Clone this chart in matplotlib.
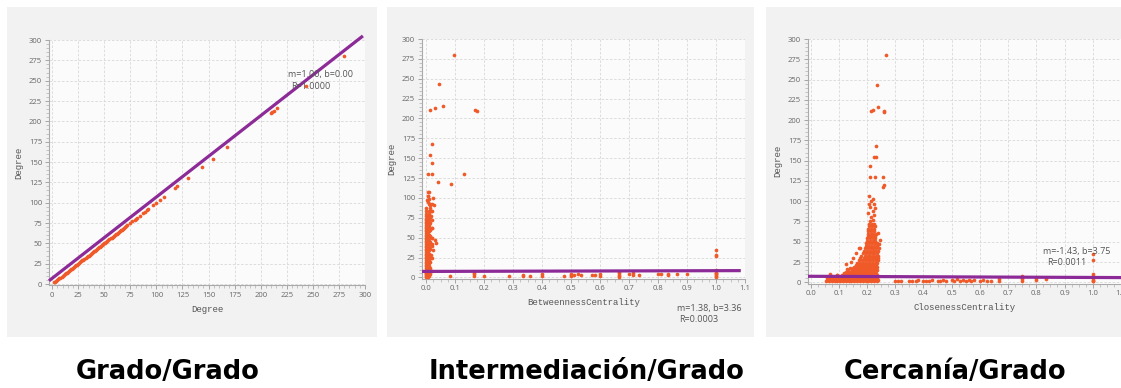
import matplotlib
matplotlib.use('Agg')
import matplotlib.pyplot as plt
from matplotlib.patches import Rectangle
from matplotlib.ticker import MultipleLocator, FormatStrFormatter

# ---------------- DATA ----------------
# Panel 1: Degree vs Degree
degree_p1 = [2, 3, 4, 5, 6, 7, 8, 9, 10, 11, 12, 13, 14, 15, 16, 17, 18, 19, 20,
             21, 22, 23, 24, 25, 26, 27, 28, 29, 30, 31, 32, 33, 34, 35, 36, 37, 38,
             39, 40, 41, 42, 43, 44, 45, 46, 47, 48, 49, 50, 51, 52, 53, 54, 55, 56,
             57, 58, 59, 60, 61, 62, 63, 64, 65, 66, 67, 68, 69, 70, 71, 72,
             75, 77, 79, 80, 81, 84, 87, 89, 91, 92, 97, 100, 103, 107, 118, 120,
             130, 144, 154, 168, 210, 211, 213, 216, 243, 280]
fit1_x = [-3, 298]
fit1_y = [4, 305]
label1 = ["m=1.00, b=0.00", "R=1.0000"]

# Panel 2: BetweennessCentrality vs Degree
bc_col_a = [1, 2, 3, 4, 5, 6, 8, 10, 12, 14, 16, 18, 20, 22, 24, 26, 28, 30, 32, 34,
            36, 38, 40, 42, 44, 46, 48, 50, 52, 54, 56, 58, 60, 62, 64, 66, 68, 70,
            72, 74, 77, 80, 84, 88]
bc_col_b = [1, 3, 5, 7, 9, 11, 13, 15, 17, 19, 21, 23, 25, 27, 29, 31, 33, 35, 37,
            39, 41, 43, 45, 47, 49, 51, 53, 55, 57, 59, 61, 63, 65, 67, 69, 71, 76,
            79, 95, 103]
bc_col_c = [2, 6, 10, 14, 18, 22, 26, 30, 34, 38, 42, 46, 50, 54, 58, 62, 66, 70,
            74, 80, 92, 99, 107]
bc_col_d = [4, 12, 20, 28, 36, 44, 52, 60, 68, 76, 84, 91]
bc_col_e = [8, 24, 40, 50, 62, 84]
bc_col_x = [0.001, 0.005, 0.009, 0.014, 0.019]
bc_other_x = [0.097, 0.045, 0.060, 0.030, 0.013, 0.170, 0.175, 0.020, 0.013, 0.022,
              0.005, 0.020, 0.130, 0.042, 0.085, 0.024, 0.008, 0.006, 0.004, 0.012,
              0.020, 0.028, 0.015, 0.018, 0.010, 0.017, 0.020, 0.020, 0.015, 0.030,
              0.033, 0.022, 0.025, 0.020, 0.018, 0.014,
              0.083, 0.167, 0.167, 0.167, 0.200, 0.286, 0.333, 0.333, 0.357, 0.400,
              0.400, 0.476, 0.500, 0.500, 0.500, 0.510, 0.524, 0.533, 0.571, 0.583,
              0.600, 0.600, 0.667, 0.667, 0.667, 0.667, 0.667, 0.700, 0.714, 0.714,
              0.733, 0.800, 0.810, 0.833, 0.833, 0.867, 0.900,
              1.0, 1.0, 1.0, 1.0, 1.0, 1.0, 1.0, 1.0, 1.0, 1.0, 1.0]
bc_other_y = [280, 243, 216, 213, 211, 211, 210, 168, 154, 144,
              130, 130, 130, 120, 118, 100, 107, 103, 97, 92,
              92, 91, 87, 84, 84, 77, 72, 62, 62, 47,
              43, 42, 35, 50, 28, 25,
              2, 2, 4, 5, 2, 2, 2, 3, 2, 2,
              4, 2, 2, 3, 4, 3, 4, 3, 3, 3,
              2, 4, 1, 2, 3, 5, 7, 4, 3, 5,
              3, 4, 4, 3, 4, 4, 4,
              1, 2, 3, 4, 5, 6, 8, 10, 27, 28, 35]
fit2_x = [-0.01, 1.08]
fit2_y = [7.6, 8.6]
label2 = ["m=1.38, b=3.36", "R=0.0003"]

# Panel 3: ClosenessCentrality vs Degree
cc_rows = [
    (1, [0.055, 0.065, 0.075, 0.085, 0.095, 0.105, 0.115, 0.125, 0.135, 0.145, 0.155,
         0.165, 0.175, 0.185, 0.195, 0.205, 0.215, 0.225, 0.235]),
    (3, [0.060, 0.070, 0.080, 0.090, 0.100, 0.110, 0.120, 0.130, 0.140, 0.150, 0.160,
         0.170, 0.180, 0.190, 0.200, 0.210, 0.220, 0.230, 0.238]),
    (5, [0.058, 0.068, 0.078, 0.088, 0.098, 0.108, 0.118, 0.128, 0.138, 0.148, 0.158,
         0.168, 0.178, 0.188, 0.198, 0.208, 0.218, 0.228, 0.236]),
    (7, [0.070, 0.085, 0.100, 0.112, 0.122, 0.132, 0.142, 0.152, 0.162, 0.172, 0.182,
         0.192, 0.202, 0.212, 0.222, 0.232]),
    (9, [0.092, 0.110, 0.125, 0.135, 0.145, 0.155, 0.165, 0.175, 0.185, 0.195, 0.205,
         0.215, 0.225, 0.235]),
    (11, [0.120, 0.132, 0.142, 0.152, 0.162, 0.172, 0.182, 0.192, 0.202, 0.212, 0.222,
          0.232]),
    (13, [0.125, 0.140, 0.150, 0.160, 0.170, 0.180, 0.190, 0.200, 0.210, 0.220, 0.230]),
    (15, [0.132, 0.147, 0.157, 0.167, 0.177, 0.187, 0.197, 0.207, 0.217, 0.227, 0.236]),
    (17, [0.150, 0.162, 0.172, 0.182, 0.192, 0.202, 0.212, 0.222, 0.232]),
    (19, [0.155, 0.168, 0.178, 0.188, 0.198, 0.208, 0.218, 0.228, 0.237]),
    (21, [0.160, 0.172, 0.182, 0.192, 0.202, 0.212, 0.222, 0.232]),
    (24, [0.165, 0.177, 0.187, 0.197, 0.207, 0.217, 0.227, 0.237]),
    (27, [0.170, 0.182, 0.192, 0.202, 0.212, 0.222, 0.232, 0.240]),
    (30, [0.176, 0.188, 0.198, 0.208, 0.218, 0.228, 0.238]),
    (33, [0.180, 0.192, 0.202, 0.212, 0.222, 0.232, 0.240]),
    (36, [0.186, 0.196, 0.206, 0.216, 0.226, 0.236]),
    (39, [0.190, 0.200, 0.210, 0.220, 0.230, 0.240]),
    (42, [0.192, 0.203, 0.213, 0.223, 0.233, 0.242]),
    (45, [0.195, 0.205, 0.215, 0.225, 0.235]),
    (48, [0.197, 0.207, 0.217, 0.227, 0.236]),
    (51, [0.200, 0.210, 0.220, 0.230]),
    (54, [0.200, 0.210, 0.220, 0.230]),
    (57, [0.202, 0.212, 0.222, 0.230]),
    (60, [0.203, 0.213, 0.223, 0.233]),
    (63, [0.205, 0.215, 0.225]),
    (66, [0.205, 0.215, 0.225]),
    (69, [0.207, 0.217, 0.227]),
    (72, [0.207, 0.217, 0.225]),
]
cc_other_x = [0.268, 0.237, 0.240, 0.215, 0.222, 0.260, 0.262, 0.232, 0.225, 0.232,
              0.210, 0.210, 0.228, 0.255, 0.255, 0.262,
              0.210, 0.220, 0.215, 0.225, 0.205, 0.220, 0.230, 0.210, 0.225, 0.208,
              0.215, 0.220, 0.207, 0.240, 0.243, 0.245,
              0.070, 0.095, 0.125, 0.130, 0.140, 0.150, 0.160, 0.170, 0.175, 0.145,
              0.300, 0.310, 0.320, 0.350, 0.360, 0.375, 0.380, 0.400, 0.410, 0.420,
              0.430, 0.450, 0.460, 0.470, 0.480, 0.500, 0.510, 0.520, 0.530, 0.540,
              0.550, 0.560, 0.570, 0.580, 0.600, 0.610, 0.625, 0.640, 0.667, 0.667,
              0.750, 0.750, 0.750, 0.750, 0.800, 0.800, 0.833,
              1.0, 1.0, 1.0, 1.0, 1.0, 1.0, 1.0, 1.0]
cc_other_y = [280, 243, 216, 211, 213, 211, 210, 168, 154, 154,
              144, 130, 130, 130, 118, 120,
              75, 77, 80, 83, 85, 88, 91, 93, 96, 97,
              100, 103, 107, 61, 47, 52,
              10, 9, 22, 16, 18, 30, 36, 42, 42, 25,
              2, 2, 2, 1, 2, 2, 3, 2, 2, 2,
              3, 2, 2, 3, 2, 3, 2, 4, 2, 3,
              2, 3, 2, 3, 2, 3, 2, 2, 2, 4,
              2, 4, 6, 8, 3, 5, 4,
              1, 2, 3, 5, 8, 10, 28, 35]
fit3_x = [-0.01, 1.1]
fit3_y = [7.4, 5.8]
label3 = ["m=-1.43, b=3.75", "R=0.0011"]

titles = ["Grado/Grado", "Intermediación/Grado", "Cercanía/Grado"]
xlabels = ["Degree", "BetweennessCentrality", "ClosenessCentrality"]
ylabel = "Degree"

# ---------------- STYLE ----------------
W, H = 1121, 388
PT_COLOR = '#F05A28'
LINE_COLOR = '#8C2B98'
PANEL_BG = '#F2F2F2'
PLOT_BG = '#FBFBFB'
GRID = '#D8D8D8'
TICK_C = '#666666'
MS = 7

fig = plt.figure(figsize=(W / 100, H / 100), dpi=100)
fig.patch.set_facecolor('white')


def fbox(l, t, r, b):
    return [l / W, 1 - b / H, (r - l) / W, (b - t) / H]


for (l, t, r, b) in [(7, 7, 377, 337), (387, 7, 754, 337), (766, 7, 1130, 337)]:
    fig.add_artist(Rectangle((l / W, 1 - b / H), (r - l) / W, (b - t) / H,
                             transform=fig.transFigure, facecolor=PANEL_BG,
                             edgecolor='none', zorder=0))


def style(ax, xmaj, xmin, fmt=None):
    ax.set_facecolor(PLOT_BG)
    for s in ['top', 'right']:
        ax.spines[s].set_visible(False)
    for s in ['left', 'bottom']:
        ax.spines[s].set_color('#AAAAAA')
        ax.spines[s].set_linewidth(0.8)
    ax.xaxis.set_major_locator(MultipleLocator(xmaj))
    ax.xaxis.set_minor_locator(MultipleLocator(xmin))
    ax.yaxis.set_major_locator(MultipleLocator(25))
    ax.yaxis.set_minor_locator(MultipleLocator(5))
    if fmt:
        ax.xaxis.set_major_formatter(FormatStrFormatter(fmt))
    ax.tick_params(which='major', length=3, width=0.6, color='#999999',
                   labelsize=5.5, labelcolor=TICK_C, pad=2)
    ax.tick_params(which='minor', length=2, width=0.5, color='#B0B0B0')
    for lab in ax.get_xticklabels() + ax.get_yticklabels():
        lab.set_family('Open Sans')
    ax.grid(True, which='major', linestyle=(0, (3, 2)), color=GRID, linewidth=0.6)
    ax.set_axisbelow(True)
    ax.set_ylabel(ylabel, family='Liberation Mono', fontsize=6.5, color='#555555',
                  labelpad=4)


# Panel 1
ax1 = fig.add_axes(fbox(49, 40, 365, 285))
ax1.set_xlim(-3, 300)
ax1.set_ylim(-1.2, 300)
style(ax1, 25, 5)
ax1.scatter(degree_p1, degree_p1, s=MS, color=PT_COLOR, linewidths=0, zorder=3)
ax1.plot(fit1_x, fit1_y, color=LINE_COLOR, lw=2.3, solid_capstyle='butt', zorder=4,
         clip_on=False)
ax1.set_xlabel(xlabels[0], family='Liberation Mono', fontsize=6.5, color='#555555',
               labelpad=4)
ax1.text(226, 257, label1[0], fontsize=6.5, color='#555555', va='center', zorder=5,
         family='Open Sans')
ax1.text(229, 243, label1[1], fontsize=6.5, color='#555555', va='center', zorder=5,
         family='Open Sans')

# Panel 2
ax2 = fig.add_axes(fbox(422, 39, 745, 278.5))
ax2.set_xlim(-0.014, 1.1)
ax2.set_ylim(-1.3, 300)
style(ax2, 0.1, 0.025, '%.1f')
for cx, col in zip(bc_col_x, [bc_col_a, bc_col_b, bc_col_c, bc_col_d, bc_col_e]):
    ax2.scatter([cx] * len(col), col, s=MS, color=PT_COLOR, linewidths=0, zorder=3)
ax2.scatter(bc_other_x, bc_other_y, s=MS, color=PT_COLOR, linewidths=0, zorder=3)
ax2.plot(fit2_x, fit2_y, color=LINE_COLOR, lw=2.3, zorder=4)
ax2.set_xlabel(xlabels[1], family='Liberation Mono', fontsize=6.5, color='#555555',
               labelpad=4)
fig.text(677 / W, 1 - 308 / H, label2[0], fontsize=6.5, color='#555555', va='center',
         family='Open Sans')
fig.text(679 / W, 1 - 319 / H, label2[1], fontsize=6.5, color='#555555', va='center',
         family='Open Sans')

# Panel 3
ax3 = fig.add_axes(fbox(808, 39, 1121, 283.5))
ax3.set_xlim(-0.009, 1.1)
ax3.set_ylim(-1.5, 300)
style(ax3, 0.1, 0.025, '%.1f')
for d, xs in cc_rows:
    ax3.scatter(xs, [d] * len(xs), s=MS, color=PT_COLOR, linewidths=0, zorder=3)
ax3.scatter(cc_other_x, cc_other_y, s=MS, color=PT_COLOR, linewidths=0, zorder=3)
ax3.plot(fit3_x, fit3_y, color=LINE_COLOR, lw=2.3, zorder=4)
ax3.set_xlabel(xlabels[2], family='Liberation Mono', fontsize=6.5, color='#555555',
               labelpad=4)
ax3.text(0.823, 38, label3[0], fontsize=6.5, color='#555555', va='center', zorder=5,
         family='Open Sans')
ax3.text(0.837, 24.7, label3[1], fontsize=6.5, color='#555555', va='center', zorder=5,
         family='Open Sans')

# Bottom titles
for tx, cxp in zip(titles, [168, 587, 955]):
    fig.text(cxp / W, 1 - 372 / H, tx, ha='center', va='center', fontsize=18.5,
             fontweight='bold', family='DejaVu Sans', color='black')

fig.savefig('out.png', dpi=100)
